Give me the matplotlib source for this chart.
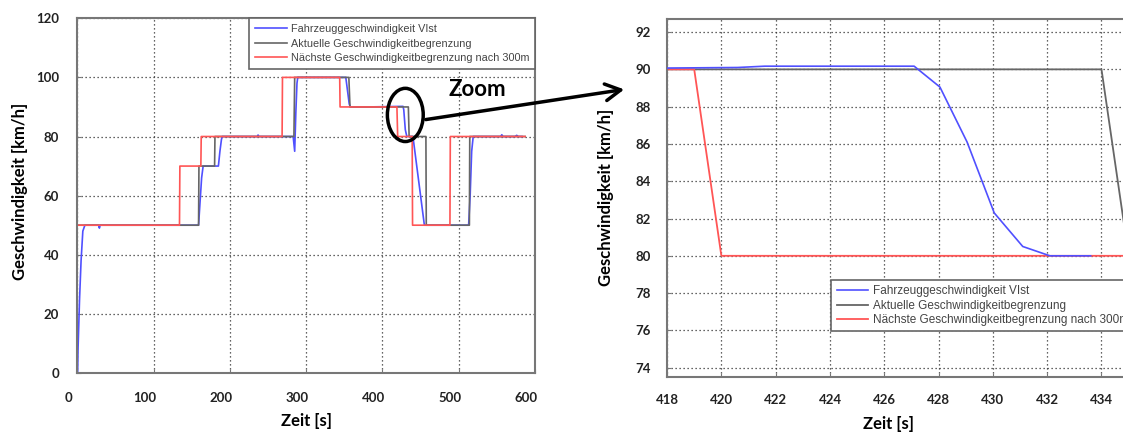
import matplotlib
matplotlib.use('Agg')
import matplotlib.pyplot as plt
import matplotlib.transforms as mtransforms
from matplotlib.patches import Ellipse

# Uebersicht 0..600 s
blue_t = [0.5, 1, 3, 5, 7.3, 10, 28, 29, 30, 159, 161, 163, 165, 185, 187, 189, 190,
          236, 237, 238, 283, 285, 286.5, 288, 289, 352, 354, 356.5, 358, 380, 427,
          428, 430, 432, 440, 455, 456, 513, 515, 517, 519, 555, 556.5, 558, 574, 576,
          578, 583]
blue_v = [0, 8, 25, 38, 48, 50, 50, 49, 50, 50, 58, 66, 70, 70, 75, 79, 80,
          80, 80.5, 80, 80, 75, 88, 98, 100, 100, 96, 91, 90, 90, 90.2,
          89, 82.3, 80, 80, 50, 50, 50, 60, 75, 80, 80, 80.6, 80, 80, 80.4,
          80, 80]

gray_t = [0, 159, 159.5, 180, 180.5, 284, 285, 356, 357.5, 434, 435, 457, 457.5, 514, 514.5, 587]
gray_v = [50, 50, 70, 70, 80, 80, 100, 100, 90, 90, 80, 80, 50, 50, 80, 80]

red_t = [0, 134, 134.5, 162, 162.5, 268.5, 269, 344, 344.5, 419, 420, 439, 439.5, 488.5, 489, 587]
red_v = [50, 50, 70, 70, 80, 80, 100, 100, 90, 90, 80, 80, 50, 50, 80, 80]

# Zoom 418..436 s
z_blue_t = [418, 420.6, 421.6, 427.1, 428.05, 429.05, 430.05, 431.1, 432.1, 433.6]
z_blue_v = [90.07, 90.1, 90.17, 90.17, 89.05, 86.1, 82.3, 80.5, 80.0, 80.0]
z_gray_t = [418, 434, 435, 436]
z_gray_v = [90, 90, 80, 80]
z_red_t = [418, 419, 420, 436]
z_red_v = [90, 90, 80, 80]

labels = ['Fahrzeuggeschwindigkeit VIst', 'Aktuelle Geschwindigkeitbegrenzung',
          'Nächste Geschwindigkeitbegrenzung nach 300m']
c_blue, c_gray, c_red = '#5050ff', '#666666', '#ff5555'

lab_font = dict(family=['Lato', 'DejaVu Sans'], weight='bold', size=12)
tick_font = ['Lato', 'DejaVu Sans']
leg_family = ['Liberation Sans Narrow', 'Liberation Sans', 'DejaVu Sans']

fig = plt.figure(figsize=(11.23, 4.33), dpi=100)


def style(ax, xpad, ypad):
    ax.grid(True, color='#333333', linestyle=(0, (1, 2.2)), linewidth=0.9)
    for s in ax.spines.values():
        s.set_color('#777777')
        s.set_linewidth(1.5)
    ax.tick_params(direction='in', length=3, color='#777777', labelsize=9.5)
    ax.tick_params(axis='x', pad=xpad)
    ax.tick_params(axis='y', pad=ypad)
    for lb in ax.get_xticklabels() + ax.get_yticklabels():
        lb.set_fontfamily(tick_font)
        lb.set_fontweight('bold')
        lb.set_color('#222222')


def legend_style(leg):
    leg.get_frame().set_edgecolor('#666666')
    leg.get_frame().set_linewidth(1.2)
    for t in leg.get_texts():
        t.set_color('#444444')


# linke Grafik
ax1 = fig.add_axes([0.0688, 0.1386, 0.4076, 0.8192])
ax1.plot(blue_t, blue_v, color=c_blue, lw=1.2, label=labels[0])
ax1.plot(gray_t, gray_v, color=c_gray, lw=1.2, label=labels[1])
ax1.plot(red_t, red_v, color=c_red, lw=1.2, label=labels[2])
ax1.set_xlim(0, 600)
ax1.set_ylim(0, 120)
ax1.set_xticks(range(0, 601, 100))
ax1.set_yticks(range(0, 121, 20))
style(ax1, 14, 13)
off = mtransforms.ScaledTranslation(-9 / 100, 0, fig.dpi_scale_trans)
for lb in ax1.get_xticklabels():
    lb.set_transform(lb.get_transform() + off)
ax1.set_xlabel('Zeit [s]', **lab_font)
ax1.set_ylabel('Geschwindigkeit [km/h]', **lab_font)
ax1.xaxis.set_label_coords(0.5, -0.113)
ax1.yaxis.set_label_coords(-0.108, 0.513)
leg1 = ax1.legend(loc='upper right', bbox_to_anchor=(1, 1), borderaxespad=0,
                  prop=dict(family=leg_family, size=7.8), handlelength=2.95,
                  handletextpad=0.3, labelspacing=0.4, fancybox=False,
                  framealpha=1, borderpad=0.55)
legend_style(leg1)

ax1.add_patch(Ellipse((430, 87.3), 47, 18, fill=False, lw=2.5, color='black',
                      clip_on=False, zorder=5))
ax1.text(525, 95.8, 'Zoom', ha='center', va='center', family=['Lato', 'DejaVu Sans'],
         weight='bold', size=16)

# rechte Grafik (Zoom), rechter Rand abgeschnitten wie im Original
ax2 = fig.add_axes([0.594, 0.1293, 0.4352, 0.8268])
ax2.plot(z_gray_t, z_gray_v, color=c_gray, lw=1.3, label=labels[1], zorder=2)
ax2.plot(z_red_t, z_red_v, color=c_red, lw=1.3, label=labels[2], zorder=2)
ax2.plot(z_blue_t, z_blue_v, color=c_blue, lw=1.2, label=labels[0], zorder=3)
ax2.set_xlim(418, 436)
ax2.set_ylim(73.5, 92.7)
ax2.set_xticks(range(418, 435, 2))
ax2.set_yticks(range(74, 93, 2))
style(ax2, 12, 11.5)
ax2.set_xlabel('Zeit [s]', **lab_font)
ax2.set_ylabel('Geschwindigkeit [km/h]', **lab_font)
ax2.xaxis.set_label_coords(0.453, -0.109)
ax2.yaxis.set_label_coords(-0.109, 0.503)
h, l = ax2.get_legend_handles_labels()
order = [2, 0, 1]
leg2 = ax2.legend([h[i] for i in order], [l[i] for i in order], loc='upper left',
                  bbox_to_anchor=(0.336, 0.271), borderaxespad=0,
                  prop=dict(family=leg_family, size=8.5), handlelength=2.7,
                  handletextpad=0.4, labelspacing=0.2, fancybox=False,
                  framealpha=1, borderpad=0.45)
legend_style(leg2)

# Pfeil vom Kreis zur Zoom-Grafik
fig.add_artist(matplotlib.patches.FancyArrowPatch(
    (423 / 1123, 1 - 120 / 433), (627 / 1123, 1 - 89 / 433),
    transform=fig.transFigure, arrowstyle='->,head_length=0.55,head_width=0.3',
    mutation_scale=20, lw=2.5, color='black'))

fig.savefig('out.png', dpi=100)
